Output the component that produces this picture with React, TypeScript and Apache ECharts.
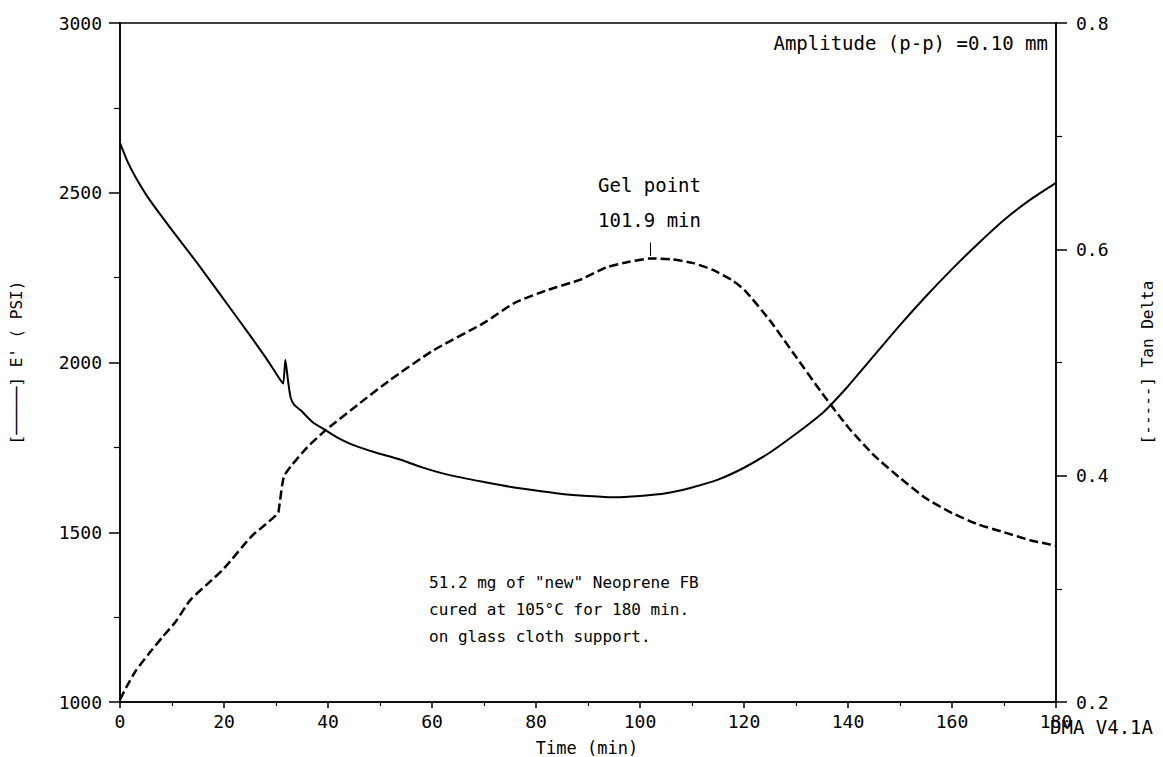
import React, { useEffect, useRef } from "react";
import * as echarts from "echarts";

const timeTicks = [0, 20, 40, 60, 80, 100, 120, 140, 160, 180];

const eTime = [0, 1.5, 3, 5.7, 10, 15, 20, 25, 28, 30, 31, 31.4, 31.8, 32.3, 32.8, 33.5, 34.7, 37, 39.5, 42, 44.2, 46.1, 49.3, 53.7, 58.1, 63.2, 70, 75, 80, 85, 90, 95, 100, 105, 110, 115, 120, 125, 130, 135, 137, 140, 145, 150, 155, 160, 165, 170, 175, 180];
const eValues = [2647, 2590, 2546, 2479, 2390, 2290, 2185, 2080, 2015, 1968, 1945, 1938, 2008, 1948, 1898, 1875, 1860, 1825, 1801, 1777, 1761, 1750, 1734, 1715, 1691, 1669, 1648, 1634, 1623, 1613, 1607, 1603, 1607, 1615, 1632, 1655, 1690, 1735, 1790, 1850, 1880, 1930, 2020, 2110, 2195, 2275, 2350, 2420, 2479, 2529];

const tanTime = [0, 1.2, 3.1, 5.6, 8.1, 10.7, 13.5, 17, 20, 25.2, 28, 30.4, 30.6, 31.5, 32.8, 36, 39.5, 46.1, 51.8, 60, 70, 76, 82.2, 88.4, 93.5, 97.9, 102.1, 106.3, 110.1, 113.9, 117.6, 120.1, 125, 130, 135, 140, 145, 150, 155, 160, 165, 170, 175, 178, 180];
const tanValues = [0.202, 0.213, 0.228, 0.243, 0.257, 0.271, 0.29, 0.305, 0.318, 0.346, 0.357, 0.367, 0.372, 0.399, 0.408, 0.425, 0.44, 0.464, 0.484, 0.51, 0.535, 0.553, 0.564, 0.573, 0.584, 0.589, 0.592, 0.591, 0.588, 0.582, 0.573, 0.564, 0.537, 0.505, 0.473, 0.443, 0.418, 0.398, 0.38, 0.367, 0.357, 0.35, 0.343, 0.34, 0.338];

const gelTime = 101.9;
const noteLines = ['51.2 mg of "new" Neoprene FB', "cured at 105°C for 180 min.", "on glass cloth support."];

const FONT = "'DejaVu Sans Mono', monospace";

export default function App() {
  const ref = useRef<HTMLDivElement>(null);
  useEffect(() => {
    if (!ref.current) return;
    const chart = echarts.init(ref.current, null, { renderer: "svg" });
    const eData = eTime.map((t, i) => [t, eValues[i]]);
    const tanData = tanTime.map((t, i) => [t, tanValues[i]]);
    const peak = Math.max(...tanValues);
    const axisCommon = {
      axisLine: { show: true, lineStyle: { color: "#000", width: 1.5 } },
      splitLine: { show: false },
      axisLabel: { color: "#000", fontFamily: FONT, fontSize: 18 },
      nameTextStyle: { color: "#000", fontFamily: FONT, fontSize: 16 },
    };
    chart.setOption({
      animation: false,
      backgroundColor: "#fff",
      grid: { left: 116, right: 96, top: 23, bottom: 55, show: true, borderColor: "#000", borderWidth: 1.5 },
      xAxis: {
        ...axisCommon,
        type: "value",
        min: 0,
        max: 180,
        interval: 20,
        axisTick: { show: true, inside: false, length: 6, lineStyle: { color: "#000", width: 1.5 } },
        minorTick: { show: true, splitNumber: 2, length: 4, lineStyle: { color: "#000", width: 1.2 } },
        axisLabel: { ...axisCommon.axisLabel, margin: 10, customValues: timeTicks, formatter: (v: number) => String(v) },
      },
      yAxis: [
        {
          ...axisCommon,
          type: "value",
          position: "left",
          min: 1000,
          max: 3000,
          interval: 500,
          name: "[─────] E' ( PSI)",
          nameLocation: "middle",
          nameRotate: 90,
          nameGap: 96,
          axisTick: { show: true, length: 11, lineStyle: { color: "#000", width: 1.5 } },
          minorTick: { show: true, splitNumber: 2, length: 6, lineStyle: { color: "#000", width: 1.2 } },
          axisLabel: { ...axisCommon.axisLabel, margin: 18, formatter: (v: number) => String(v) },
        },
        {
          ...axisCommon,
          type: "value",
          position: "right",
          min: 0.2,
          max: 0.8,
          interval: 0.2,
          name: "[-----] Tan Delta",
          nameLocation: "middle",
          nameRotate: 90,
          nameGap: 83,
          axisTick: { show: true, length: 11, lineStyle: { color: "#000", width: 1.5 } },
          minorTick: { show: true, splitNumber: 2, length: 6, lineStyle: { color: "#000", width: 1.2 } },
          axisLabel: { ...axisCommon.axisLabel, margin: 20, formatter: (v: number) => v.toFixed(1) },
        },
      ],
      series: [
        {
          name: "E'",
          type: "line",
          yAxisIndex: 0,
          data: eData,
          showSymbol: false,
          smooth: 0.2,
          lineStyle: { color: "#000", width: 2 },
        },
        {
          name: "Tan Delta",
          type: "line",
          yAxisIndex: 1,
          data: tanData,
          showSymbol: false,
          smooth: 0.2,
          lineStyle: { color: "#000", width: 2.5, type: [9, 4] },
          markLine: {
            silent: true,
            symbol: "none",
            label: { show: false },
            lineStyle: { color: "#000", width: 1, type: "solid" },
            data: [[{ coord: [gelTime, peak + 0.002] }, { coord: [gelTime, peak + 0.014] }]],
          },
        },
      ],
      graphic: [
        { type: "text", x: 1048, y: 43, style: { text: "Amplitude (p-p) =0.10 mm", font: `19px ${FONT}`, fill: "#000", align: "right", verticalAlign: "middle" } },
        { type: "text", x: 598, y: 185, style: { text: "Gel point", font: `19px ${FONT}`, fill: "#000", align: "left", verticalAlign: "middle" } },
        { type: "text", x: 598, y: 220, style: { text: `${gelTime} min`, font: `19px ${FONT}`, fill: "#000", align: "left", verticalAlign: "middle" } },
        ...noteLines.map((line, i) => ({
          type: "text",
          x: 429,
          y: 582 + i * 27,
          style: { text: line, font: `16px ${FONT}`, fill: "#000", align: "left", verticalAlign: "middle" },
        })),
        { type: "text", x: 587, y: 748, style: { text: "Time (min)", font: `17px ${FONT}`, fill: "#000", align: "center", verticalAlign: "middle" } },
        { type: "text", x: 1050, y: 727, style: { text: "DMA V4.1A", font: `19px ${FONT}`, fill: "#000", align: "left", verticalAlign: "middle" } },
      ],
    });
    return () => chart.dispose();
  }, []);
  return <div ref={ref} style={{ position: "fixed", left: 0, top: 0, width: 1163, height: 757, background: "#fff" }} />;
}
